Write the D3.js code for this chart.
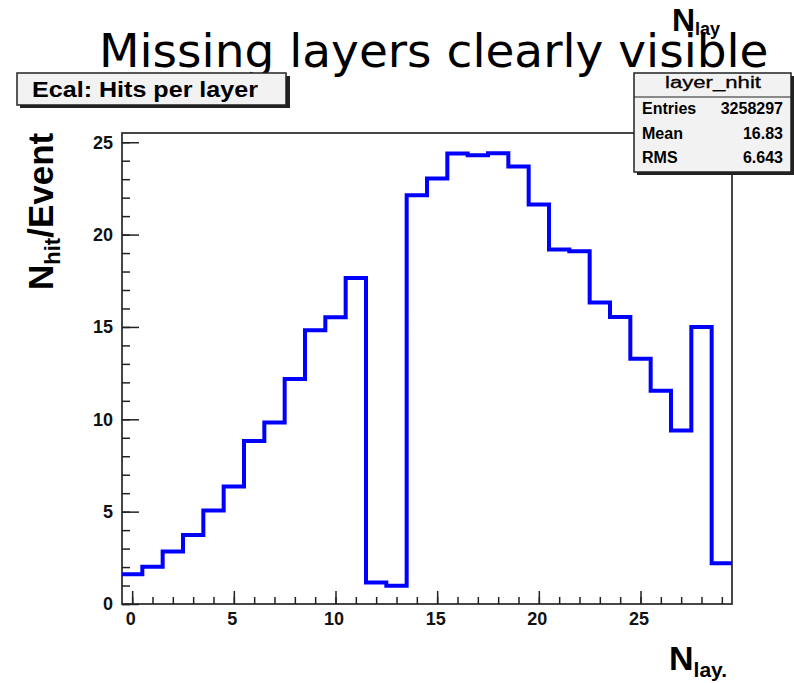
<!DOCTYPE html>
<html>
<head>
<meta charset="utf-8">
<script src="https://cdn.jsdelivr.net/npm/d3@7"></script>
<style>
  body { margin: 0; background: #fff; }
  svg { display: block; }
</style>
</head>
<body>
<div id="viz"></div>
<script>
// histogram contents, one value per layer bin (0..29)
const layers = d3.range(0, 30);
const hitsPerEvent = [1.61, 2.02, 2.84, 3.74, 5.06, 6.36, 8.83, 9.83, 12.18, 14.82,
    15.52, 17.65, 1.17, 0.99, 22.13, 23.03, 24.39, 24.30, 24.41, 23.69,
    21.63, 19.19, 19.10, 16.33, 15.54, 13.28, 11.54, 9.39, 15.0, 2.2];
const xMajorTicks = [0, 5, 10, 15, 20, 25];
const xMinorTicks = d3.range(0, 30);
const yMajorTicks = [0, 5, 10, 15, 20, 25];
const yMinorTicks = d3.range(0, 26);
const statsLabels = ["Entries", "Mean", "RMS"];
const statsValues = ["3258297", "16.83", "6.643"];

let width = 794, height = 683;
const frameL = 122, frameR = 732, frameT = 133, frameB = 604;

const x = d3.scaleLinear().domain([-0.5, 29.5]).range([frameL, frameR]);
const y = d3.scaleLinear().domain([0, 25.5]).range([frameB, frameT]);

const svg = d3.select("#viz")
    .append("svg")
    .attr("width", width)
    .attr("height", height);

const bold = "'Liberation Sans', Arial, sans-serif";

// stray axis title at top right (drawn under the big title)
const nTop = svg.append("text")
    .attr("x", 672)
    .attr("y", 31)
    .attr("font-family", bold)
    .attr("font-weight", "bold")
    .attr("font-size", 32)
    .attr("fill", "#000");
nTop.append("tspan").text("N");
nTop.append("tspan").attr("dy", 4).attr("font-size", 18).text("lay");

// big title
svg.append("text")
    .attr("x", 99)
    .attr("y", 67)
    .attr("font-family", "'DejaVu Sans', sans-serif")
    .attr("font-size", 47)
    .attr("fill", "#000")
    .text("Missing layers clearly visible");

// histogram title box
svg.append("rect")
    .attr("x", 20).attr("y", 76).attr("width", 270).attr("height", 32)
    .attr("fill", "#222");
svg.append("rect")
    .attr("x", 17).attr("y", 73).attr("width", 269).attr("height", 32)
    .attr("fill", "#f2f2f2").attr("stroke", "#222").attr("stroke-width", 1.5);
svg.append("text")
    .attr("x", 32).attr("y", 97)
    .attr("font-family", bold).attr("font-weight", "bold")
    .attr("font-size", 22)
    .attr("textLength", 226).attr("lengthAdjust", "spacingAndGlyphs")
    .text("Ecal: Hits per layer");

// frame
svg.append("rect")
    .attr("x", frameL).attr("y", frameT)
    .attr("width", frameR - frameL).attr("height", frameB - frameT)
    .attr("fill", "none").attr("stroke", "#333").attr("stroke-width", 1.8);

// x axis ticks
const gx = svg.append("g").attr("transform", `translate(0,${frameB})`)
    .attr("font-family", bold);
gx.append("g")
    .call(d3.axisBottom(x).tickValues(xMinorTicks).tickSize(-7).tickFormat(""))
    .call(g => g.select(".domain").remove());
gx.append("g")
    .call(d3.axisBottom(x).tickValues(xMajorTicks).tickSize(-13).tickPadding(8))
    .call(g => g.select(".domain").remove());
gx.selectAll("line").attr("stroke", "#222").attr("stroke-width", 1.5);
gx.selectAll("text").attr("font-size", 18).attr("font-weight", "bold").attr("fill", "#111")
    .attr("dx", -2);

// y axis ticks
const gy = svg.append("g").attr("transform", `translate(${frameL},0)`)
    .attr("font-family", bold);
gy.append("g")
    .call(d3.axisLeft(y).tickValues(yMinorTicks).tickSize(-8).tickFormat(""))
    .call(g => g.select(".domain").remove());
gy.append("g")
    .call(d3.axisLeft(y).tickValues(yMajorTicks).tickSize(-17).tickPadding(9))
    .call(g => g.select(".domain").remove());
gy.selectAll("line").attr("stroke", "#222").attr("stroke-width", 1.5);
gy.selectAll("text").attr("font-size", 18).attr("font-weight", "bold").attr("fill", "#111");

// histogram outline
const pts = [];
layers.forEach((l, i) => {
    pts.push([l - 0.5, hitsPerEvent[i]]);
    pts.push([l + 0.5, hitsPerEvent[i]]);
});
svg.append("path")
    .datum(pts)
    .attr("fill", "none")
    .attr("stroke", "#0000ff")
    .attr("stroke-width", 4)
    .attr("stroke-linejoin", "miter")
    .attr("d", d3.line().x(d => x(d[0])).y(d => y(d[1])));

// axis titles
const xt = svg.append("text")
    .attr("x", 669).attr("y", 670)
    .attr("font-family", bold).attr("font-weight", "bold")
    .attr("font-size", 34);
xt.append("tspan").text("N");
xt.append("tspan").attr("dy", 7).attr("font-size", 21).text("lay.");

const yt = svg.append("text")
    .attr("transform", "translate(53,290) rotate(-90)")
    .attr("font-family", bold).attr("font-weight", "bold")
    .attr("font-size", 35);
yt.append("tspan").text("N");
yt.append("tspan").attr("dy", 7).attr("font-size", 22).text("hit");
yt.append("tspan").attr("dy", -7).text("/Event");

// stats box
const sx = 634, sy = 73, sw = 157, sh = 99;
svg.append("rect")
    .attr("x", sx + 3).attr("y", sy + 3).attr("width", sw).attr("height", sh)
    .attr("fill", "#222");
svg.append("rect")
    .attr("x", sx).attr("y", sy).attr("width", sw).attr("height", sh)
    .attr("fill", "#f2f2f2").attr("stroke", "#222").attr("stroke-width", 1.5);
svg.append("line")
    .attr("x1", sx).attr("x2", sx + sw).attr("y1", sy + 24).attr("y2", sy + 24)
    .attr("stroke", "#222").attr("stroke-width", 1.2);
svg.append("text")
    .attr("x", sx + 31).attr("y", sy + 15)
    .attr("font-family", bold).attr("font-size", 16)
    .attr("textLength", 96).attr("lengthAdjust", "spacingAndGlyphs")
    .attr("stroke", "#000").attr("stroke-width", 0.3)
    .text("layer_nhit");
statsLabels.forEach((s, i) => {
    const by = [41, 66, 90][i] + sy;
    svg.append("text")
        .attr("x", sx + 8).attr("y", by)
        .attr("font-family", bold).attr("font-weight", "bold").attr("font-size", 16)
        .text(s);
    svg.append("text")
        .attr("x", sx + sw - 8).attr("y", by)
        .attr("text-anchor", "end")
        .attr("font-family", bold).attr("font-weight", "bold").attr("font-size", 16)
        .text(statsValues[i]);
});
</script>
</body>
</html>
